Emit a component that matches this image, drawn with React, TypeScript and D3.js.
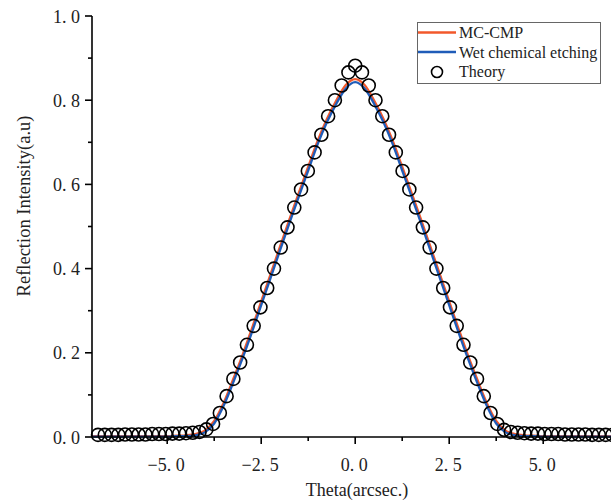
import React from "react";
import * as d3 from "d3";

const W = 611;
const H = 500;

// Theory points (theta in arcsec)
const theoryTheta = [
  -6.84, -6.66, -6.48, -6.3, -6.12, -5.94, -5.76, -5.58, -5.4, -5.22, -5.04, -4.86, -4.68,
  -4.5, -4.32, -4.14, -3.96, -3.78, -3.6, -3.42, -3.24, -3.06, -2.88, -2.7, -2.52, -2.34,
  -2.16, -1.98, -1.8, -1.62, -1.44, -1.26, -1.08, -0.9, -0.72, -0.54, -0.36, -0.18, 0,
  0.18, 0.36, 0.54, 0.72, 0.9, 1.08, 1.26, 1.44, 1.62, 1.8, 1.98, 2.16, 2.34, 2.52, 2.7,
  2.88, 3.06, 3.24, 3.42, 3.6, 3.78, 3.96, 4.14, 4.32, 4.5, 4.68, 4.86, 5.04, 5.22, 5.4,
  5.58, 5.76, 5.94, 6.12, 6.3, 6.48, 6.66, 6.84,
];
const theoryValues = [
  0.005, 0.005, 0.005, 0.005, 0.006, 0.006, 0.006, 0.006, 0.007, 0.007, 0.007, 0.008, 0.008,
  0.009, 0.01, 0.012, 0.018, 0.031, 0.057, 0.097, 0.138, 0.177, 0.219, 0.264, 0.308, 0.354,
  0.4, 0.45, 0.498, 0.545, 0.588, 0.632, 0.676, 0.718, 0.762, 0.8, 0.835, 0.866, 0.882,
  0.866, 0.835, 0.8, 0.762, 0.718, 0.676, 0.632, 0.588, 0.545, 0.498, 0.45, 0.4, 0.354,
  0.308, 0.264, 0.219, 0.177, 0.138, 0.097, 0.057, 0.031, 0.017, 0.012, 0.01, 0.009,
  0.008, 0.008, 0.007, 0.007, 0.007, 0.006, 0.006, 0.006, 0.006, 0.005, 0.005, 0.005, 0.005,
];

// Measured curves
const lineTheta = [
  -7, -6.75, -6.5, -6.25, -6, -5.75, -5.5, -5.25, -5, -4.75, -4.5, -4.25, -4, -3.75, -3.5,
  -3.25, -3, -2.75, -2.5, -2.25, -2, -1.75, -1.5, -1.25, -1, -0.75, -0.5, -0.25, 0, 0.25,
  0.5, 0.75, 1, 1.25, 1.5, 1.75, 2, 2.25, 2.5, 2.75, 3, 3.25, 3.5, 3.75, 4, 4.25, 4.5,
  4.75, 5, 5.25, 5.5, 5.75, 6, 6.25, 6.5, 6.75, 7,
];
const mcCmpValues = [
  0.002, 0.002, 0.002, 0.002, 0.002, 0.002, 0.002, 0.002, 0.002, 0.003, 0.004, 0.007, 0.015,
  0.038, 0.081, 0.136, 0.194, 0.257, 0.322, 0.387, 0.452, 0.517, 0.58, 0.642, 0.703, 0.756,
  0.8, 0.836, 0.85, 0.836, 0.8, 0.756, 0.703, 0.642, 0.58, 0.517, 0.452, 0.387, 0.322,
  0.257, 0.194, 0.136, 0.081, 0.038, 0.015, 0.007, 0.004, 0.003, 0.002, 0.002, 0.002,
  0.002, 0.002, 0.002, 0.002, 0.002, 0.002,
];
const wetValues = [
  0.001, 0.001, 0.001, 0.001, 0.001, 0.001, 0.001, 0.001, 0.001, 0.002, 0.002, 0.004, 0.011,
  0.032, 0.074, 0.128, 0.186, 0.248, 0.313, 0.378, 0.443, 0.508, 0.571, 0.633, 0.695, 0.748,
  0.792, 0.828, 0.843, 0.828, 0.792, 0.748, 0.695, 0.633, 0.571, 0.508, 0.443, 0.378, 0.313,
  0.248, 0.186, 0.128, 0.074, 0.032, 0.011, 0.004, 0.002, 0.002, 0.001, 0.001, 0.001, 0.001,
  0.001, 0.001, 0.001, 0.001, 0.001,
];

const xMajorTicks = [-5, -2.5, 0, 2.5, 5];
const xMinorTicks = [-6.25, -3.75, -1.25, 1.25, 3.75, 6.25];
const yMajorTicks = [0, 0.2, 0.4, 0.6, 0.8, 1.0];
const yMinorTicks = [0.1, 0.3, 0.5, 0.7, 0.9];

const seriesNames = ["MC-CMP", "Wet chemical etching", "Theory"];
const RED = "#F2582B";
const BLUE = "#1F5CB8";

const tickFont = "'Liberation Serif', 'Times New Roman', serif";

function TickLabel(props: { v: number; x: number; y: number; anchor: string }) {
  const s = d3.format(".1f")(Math.abs(props.v));
  const [a, b] = s.split(".");
  const head = (props.v < 0 ? "\u2212" : "") + a + ".";
  return (
    <text
      x={props.x}
      y={props.y}
      textAnchor={props.anchor}
      fontFamily={tickFont}
      fontSize={18}
      fill="#222"
    >
      {head}
      <tspan dx={4.5}>{b}</tspan>
    </text>
  );
}

export default function App() {
  const x = d3.scaleLinear().domain([-7, 7]).range([92, 92 + 14 * 37.6]);
  const y = d3.scaleLinear().domain([0, 1]).range([437, 16]);

  const line = d3
    .line<[number, number]>()
    .x((d) => x(d[0]))
    .y((d) => y(d[1]))
    .curve(d3.curveMonotoneX);

  const redPath = line(lineTheta.map((t, i) => [t, mcCmpValues[i]] as [number, number])) || "";
  const bluePath = line(lineTheta.map((t, i) => [t, wetValues[i]] as [number, number])) || "";

  const x0 = x.range()[0];
  const y0 = y(0);

  return (
    <svg
      width={W}
      height={H}
      style={{ position: "absolute", left: 0, top: 0, background: "#fff" }}
    >
      <rect x={0} y={0} width={W} height={H} fill="#fff" />
      {/* data */}
      <path d={redPath} fill="none" stroke={RED} strokeWidth={2.3} />
      <path d={bluePath} fill="none" stroke={BLUE} strokeWidth={2.3} />
      {theoryTheta.map((t, i) => (
        <circle
          key={i}
          cx={x(t)}
          cy={y(theoryValues[i])}
          r={6.5}
          fill="none"
          stroke="#000"
          strokeWidth={1.6}
        />
      ))}

      {/* axes */}
      <line x1={x0} x2={W} y1={y0} y2={y0} stroke="#000" strokeWidth={1.6} />
      <line x1={x0} x2={x0} y1={y(1)} y2={y0} stroke="#000" strokeWidth={1.6} />
      {xMajorTicks.map((t) => (
        <g key={"xM" + t}>
          <line x1={x(t)} x2={x(t)} y1={y0} y2={y0 + 7} stroke="#000" strokeWidth={1.6} />
          <TickLabel v={t} x={x(t) - 1} y={471} anchor="middle" />
        </g>
      ))}
      {xMinorTicks.map((t) => (
        <line key={"xm" + t} x1={x(t)} x2={x(t)} y1={y0} y2={y0 + 4} stroke="#000" strokeWidth={1.6} />
      ))}
      {yMajorTicks.map((t) => (
        <g key={"yM" + t}>
          <line x1={x0} x2={x0 - 7} y1={y(t)} y2={y(t)} stroke="#000" strokeWidth={1.6} />
          <TickLabel v={t} x={80} y={y(t) + 6.5} anchor="end" />
        </g>
      ))}
      {yMinorTicks.map((t) => (
        <line key={"ym" + t} x1={x0} x2={x0 - 4} y1={y(t)} y2={y(t)} stroke="#000" strokeWidth={1.6} />
      ))}

      {/* axis titles */}
      <text
        x={357}
        y={496}
        textAnchor="middle"
        fontFamily={tickFont}
        fontSize={18}
        fill="#222"
      >
        Theta(arcsec.)
      </text>
      <text
        transform={`translate(30, 206) rotate(-90)`}
        textAnchor="middle"
        fontFamily={tickFont}
        fontSize={18.5}
        fill="#222"
      >
        Reflection Intensity(a.u)
      </text>

      {/* legend */}
      <rect x={417.5} y={22.5} width={183} height={61} fill="#fff" stroke="#666" strokeWidth={1} />
      <line x1={418} x2={456} y1={32.5} y2={32.5} stroke={RED} strokeWidth={2.3} />
      <line x1={418} x2={456} y1={52} y2={52} stroke={BLUE} strokeWidth={2.3} />
      <circle cx={437} cy={72} r={5.5} fill="none" stroke="#000" strokeWidth={1.6} />
      {seriesNames.map((n, i) => (
        <text
          key={n}
          x={459}
          y={38 + i * 19.7}
          fontFamily={tickFont}
          fontSize={16}
          fill="#222"
        >
          {n}
        </text>
      ))}
    </svg>
  );
}
